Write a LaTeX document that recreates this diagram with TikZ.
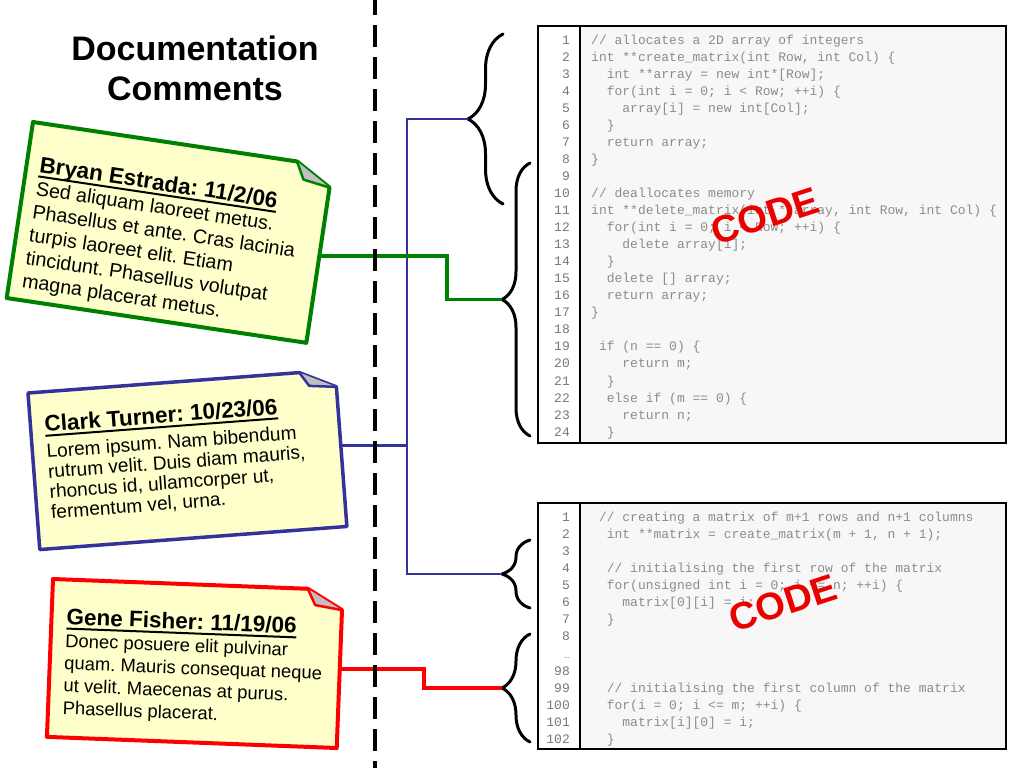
\documentclass[tikz,border=0pt]{standalone}
\usepackage{fontspec}
\setmainfont{Liberation Sans}
\setmonofont{Liberation Mono}
\usetikzlibrary{decorations.pathreplacing}
\definecolor{notefill}{RGB}{255,255,204}
\definecolor{notegreen}{RGB}{0,128,0}
\definecolor{noteblue}{RGB}{51,51,153}
\definecolor{notered}{RGB}{255,0,0}
\definecolor{foldgray}{RGB}{192,192,192}
\definecolor{codebg}{RGB}{247,247,247}
\definecolor{codegray}{RGB}{140,140,140}
\definecolor{numgray}{RGB}{120,120,120}
\definecolor{markred}{RGB}{235,0,0}
\newcommand\headroom[1]{\rule{0pt}{#1}}
\newsavebox\ttlbox
\newcommand\ttlul[1]{\sbox\ttlbox{#1}\rlap{\rule[-5pt]{\wd\ttlbox}{2pt}}\usebox\ttlbox}
\frenchspacing

\begin{document}
\begin{tikzpicture}[x=1pt,y=-1pt,
  note/.style={fill=notefill,line width=4pt,line join=round},
  fold/.style={fill=foldgray,line width=2.5pt,line join=round},
  notehead/.style={anchor=base west,inner sep=0pt,font=\bfseries\fontsize{22.5}{27}\selectfont},
  notebody/.style={anchor=north west,inner sep=0pt,align=left},
  codetext/.style={anchor=north west,inner sep=0pt,align=left,text=codegray,font=\ttfamily\fontsize{13}{17.04}\selectfont},
  linenums/.style={anchor=north east,inner sep=0pt,align=right,text=numgray,font=\ttfamily\fontsize{13}{17.04}\selectfont},
  codemark/.style={rotate=18,text=markred,inner sep=0pt,font=\bfseries\fontsize{38}{40}\selectfont},
  curlybrace/.style={decorate,line width=3pt,line cap=round,line join=round},
  bluewire/.style={noteblue,line width=2.7pt},
  greenwire/.style={notegreen,line width=3.5pt},
  redwire/.style={notered,line width=3.5pt}]
  \useasboundingbox (0,0) rectangle (1024,768);
  \fill[white] (0,0) rectangle (1024,768);

  % title
  \node[font=\bfseries\fontsize{34}{40}\selectfont,align=center,anchor=north,inner sep=0pt] (doctitle) at (195,30) {\headroom{30pt}Documentation\\Comments};

  % code panels
  \fill[codebg] (580,26) rectangle (1006,443);
  \draw[line width=1.2pt] (538,26) rectangle (1006,443) (580,26) -- (580,443);
  \node[linenums] (nums1) at (570,30) {\headroom{14pt}1\\2\\3\\4\\5\\6\\7\\8\\9\\10\\11\\12\\13\\14\\15\\16\\17\\18\\19\\20\\21\\22\\23\\24};
  \node[codetext] (code1) at (591,30) {\headroom{14pt}// allocates a 2D array of integers\\
int **create\_matrix(int Row, int Col) \{\\
~~int **array = new int*[Row];\\
~~for(int i = 0; i < Row; ++i) \{\\
~~~~array[i] = new int[Col];\\
~~\}\\
~~return array;\\
\}\\
\\
// deallocates memory\\
int **delete\_matrix(int **array, int Row, int Col) \{\\
~~for(int i = 0; i < Row; ++i) \{\\
~~~~delete array[i];\\
~~\}\\
~~delete [] array;\\
~~return array;\\
\}\\
\\
~if (n == 0) \{\\
~~~~return m;\\
~~\}\\
~~else if (m == 0) \{\\
~~~~return n;\\
~~\}};

  \fill[codebg] (580,503) rectangle (1006,749);
  \draw[line width=1.2pt] (538,503) rectangle (1006,749) (580,503) -- (580,749);
  \node[linenums] (nums2) at (570,507.5) {\headroom{14pt}1\\2\\3\\4\\5\\6\\7\\8\\{\fontsize{9}{10}\selectfont …}\\98\\99\\100\\101\\102};
  \node[codetext] (code2) at (591,507.5) {\headroom{14pt}~// creating a matrix of m+1 rows and n+1 columns\\
~~int **matrix = create\_matrix(m + 1, n + 1);\\
\\
~~// initialising the first row of the matrix\\
~~for(unsigned int i = 0; i <= n; ++i) \{\\
~~~~matrix[0][i] = i;\\
~~\}\\
\\
\\
\\
~~// initialising the first column of the matrix\\
~~for(i = 0; i <= m; ++i) \{\\
~~~~matrix[i][0] = i;\\
~~\}};

  \node[codemark] (mark1) at (765,216) {CODE};
  \node[codemark] (mark2) at (783,603) {CODE};

  % braces
  \draw[curlybrace,decoration={brace,amplitude=35pt}] (503,204) -- (503,34);
  \draw[curlybrace,decoration={brace,amplitude=28pt}] (530,436) -- (530,163);
  \draw[curlybrace,decoration={brace,amplitude=28pt}] (530,608) -- (530,540);
  \draw[curlybrace,decoration={brace,amplitude=28pt}] (530,742) -- (530,634);
  \coordinate (tipA) at (468,119);
  \coordinate (tipB) at (502,299.5);
  \coordinate (tipC) at (502,574);
  \coordinate (tipD) at (502,688);
  \coordinate (bluespine) at (407,0);
  \coordinate (gjog) at (447,0);
  \coordinate (rjog) at (424,0);

  % comment notes
  \begin{scope}[shift={(33,122)},rotate=-8.5,transform shape]
    \draw[note,draw=notegreen] (0,0) -- (267,0) -- (303,21) -- (303,178) -- (0,178) -- cycle;
    \draw[fold,draw=notegreen] (267,0) -- (276,17) -- (303,21);
    \node[notehead] (bryanhead) at (13,49) {\ttlul{Bryan Estrada: 11/2/06}};
    \node[notebody,font=\fontsize{19.7}{23.3}\selectfont] (bryanbody) at (13,52) {\headroom{20pt}Sed aliquam laoreet metus.\\Phasellus et ante. Cras lacinia\\turpis laoreet elit. Etiam\\tincidunt. Phasellus volutpat\\magna placerat metus.};
    \coordinate (bryanout) at (303,90);
  \end{scope}

  \begin{scope}[shift={(28,393)},rotate=4.3,transform shape]
    \draw[note,draw=noteblue,line width=3.5pt] (0,0) -- (272,0) -- (308,17) -- (308,157) -- (0,157) -- cycle;
    \draw[fold,draw=noteblue] (272,0) -- (281,14) -- (308,17);
    \node[notehead] (clarkhead) at (14,40) {\ttlul{Clark Turner: 10/23/06}};
    \node[notebody,font=\fontsize{19.1}{20.3}\selectfont] (clarkbody) at (14,46) {\headroom{20pt}Lorem ipsum. Nam bibendum\\rutrum velit. Duis diam mauris,\\rhoncus id, ullamcorper ut,\\fermentum vel, urna.};
    \coordinate (clarkout) at (308,76);
  \end{scope}

  \begin{scope}[shift={(53,579)},rotate=-2.2,transform shape]
    \draw[note,draw=notered] (0,0) -- (255,0) -- (290,20) -- (290,158) -- (0,158) -- cycle;
    \draw[fold,draw=notered] (255,0) -- (263,16) -- (290,20);
    \node[notehead] (genehead) at (15,45) {\ttlul{Gene Fisher: 11/19/06}};
    \node[notebody,font=\fontsize{18.4}{22.4}\selectfont] (genebody) at (14.5,47.5) {\headroom{20pt}Donec posuere elit pulvinar\\quam. Mauris consequat neque\\ut velit. Maecenas at purus.\\Phasellus placerat.};
    \coordinate (geneout) at (290,79);
  \end{scope}

  % connectors
  \draw[bluewire] (tipA) -| (bluespine |- tipC) -- (tipC);
  \draw[bluewire] (clarkout) -- (clarkout -| bluespine);
  \draw[greenwire] (bryanout) -- (bryanout -| gjog) |- (tipB);
  \draw[redwire] (geneout) -- (geneout -| rjog) |- (tipD);

  % divider
  \draw[line width=4pt,dash pattern=on 22pt off 10pt,dash phase=7pt] (375,0) -- (375,768);
\end{tikzpicture}
\end{document}
